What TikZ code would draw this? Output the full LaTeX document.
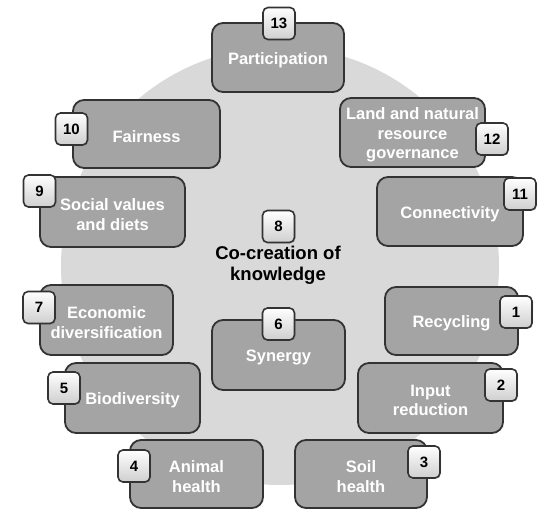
\documentclass[tikz,border=0pt]{standalone}
\usepackage{fontspec}
\setmainfont{Liberation Sans}
\usetikzlibrary{shadows}
\definecolor{bgc}{HTML}{D9D9D9}
\definecolor{boxc}{HTML}{A4A4A4}
\definecolor{edgec}{HTML}{333333}
\definecolor{badgelo}{HTML}{CFCFCF}
\begin{document}
\begin{tikzpicture}[x=1pt,y=-1pt,
  topic/.style={draw=edgec, line width=1.8pt, fill=boxc, rounded corners=11pt,
    inner sep=0pt},
  topictext/.style={text=white, font=\fontsize{16.5}{19.5}\selectfont\bfseries,
    align=center, inner sep=0pt, yshift=-2.5pt},
  badge/.style={draw=edgec, line width=1.6pt, rounded corners=5pt,
    top color=white, bottom color=badgelo,
    drop shadow={opacity=0.3, shadow xshift=1pt, shadow yshift=-1pt},
    minimum width=32pt, minimum height=32pt, inner sep=0pt,
    font=\fontsize{15}{15}\selectfont\bfseries, text=black},
  centretext/.style={font=\fontsize{18.5}{21}\selectfont\bfseries, align=center, text=black, inner sep=0pt}
]
\useasboundingbox (0,0) rectangle (539,510);
\fill[bgc] (280,266) circle (219pt);

% topic boxes
\node[topic, minimum width=132pt, minimum height=69pt] (t13) at (278,57.5) {};
\node[topic, minimum width=147pt, minimum height=68pt] (t10) at (146.5,134) {};
\node[topic, minimum width=145pt, minimum height=70pt] (t9) at (112.5,212) {};
\node[topic, minimum width=145pt, minimum height=69pt] (t12) at (412.5,132.5) {};
\node[topic, minimum width=146pt, minimum height=69pt] (t11) at (450,211.5) {};
\node[topic, minimum width=133pt, minimum height=70pt] (t7) at (106.5,320) {};
\node[topic, minimum width=133pt, minimum height=70pt] (t6) at (278.5,355) {};
\node[topic, minimum width=133pt, minimum height=68pt] (t1) at (451.5,321) {};
\node[topic, minimum width=135pt, minimum height=70pt] (t5) at (132.5,398) {};
\node[topic, minimum width=145pt, minimum height=70pt] (t2) at (430.5,398) {};
\node[topic, minimum width=133pt, minimum height=68pt] (t4) at (196.5,474) {};
\node[topic, minimum width=132pt, minimum height=68pt] (t3) at (361,474) {};

% topic texts
\node[topictext] (x13) at (t13.center) {Participation};
\node[topictext] (x10) at (t10.center) {Fairness};
\node[topictext] (x9) at (t9.center) {Social values\\and diets};
\node[topictext] (x12) at (t12.center) {Land and natural\\resource\\governance};
\node[topictext] (x11) at (t11.center) {Connectivity};
\node[topictext] (x7) at (t7.center) {Economic\\diversification};
\node[topictext] (x6) at (t6.center) {Synergy};
\node[topictext] (x1) at (t1.center) {Recycling};
\node[topictext] (x5) at (t5.center) {Biodiversity};
\node[topictext] (x2) at (t2.center) {Input\\reduction};
\node[topictext] (x4) at (t4.center) {Animal\\health};
\node[topictext] (x3) at (t3.center) {Soil\\health};

% centre text
\node[centretext] (t8) at (278,265.5) {Co-creation of\\knowledge};

% number badges
\node[badge] (b13) at (279,23.5) {13};
\node[badge] (b10) at (71.5,129) {10};
\node[badge] (b9) at (39.5,191) {9};
\node[badge] (b12) at (492,139) {12};
\node[badge] (b11) at (520,194) {11};
\node[badge] (b7) at (39,307.5) {7};
\node[badge] (b6) at (278.5,324) {6};
\node[badge] (b8) at (278.5,226.5) {8};
\node[badge] (b1) at (516,312) {1};
\node[badge] (b5) at (64,388) {5};
\node[badge] (b2) at (501,385) {2};
\node[badge] (b4) at (134,466) {4};
\node[badge] (b3) at (424,462) {3};
\end{tikzpicture}
\end{document}
